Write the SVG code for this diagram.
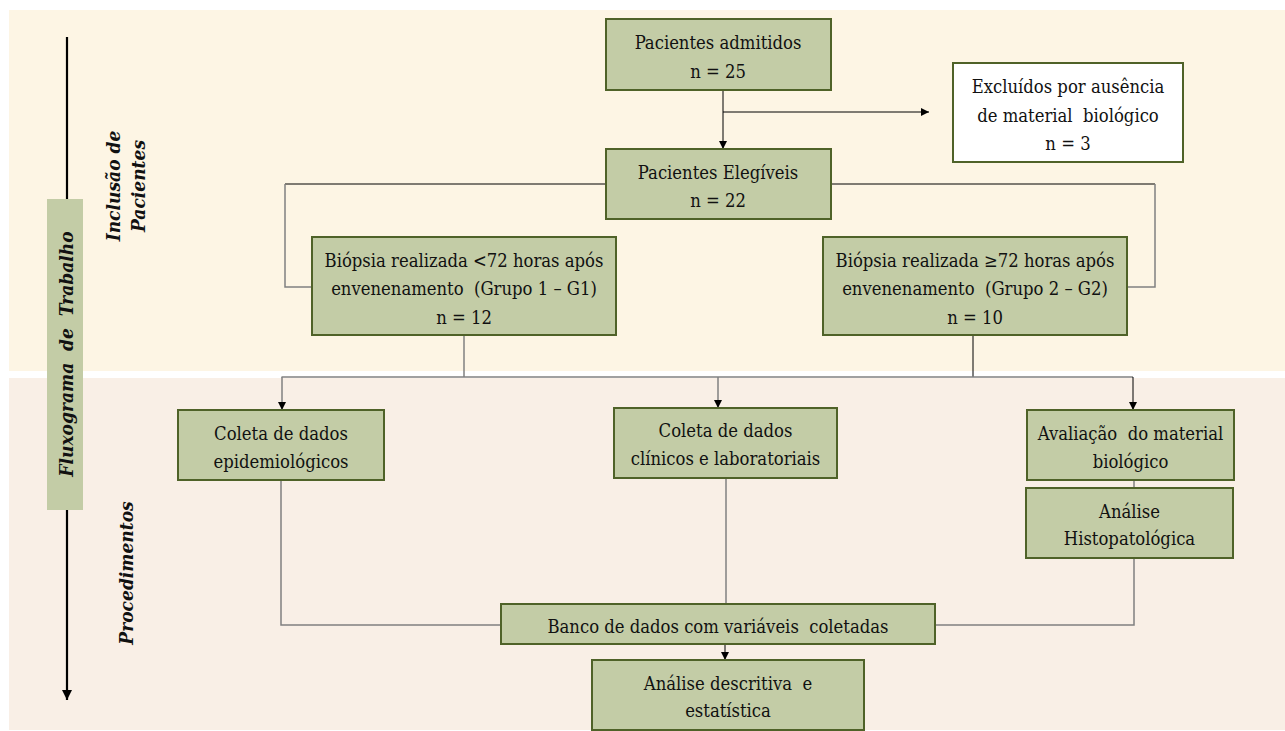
<svg xmlns="http://www.w3.org/2000/svg" width="1285" height="731" viewBox="0 0 1285 731">
<defs>
<marker id="arr" viewBox="0 0 10 10" refX="10" refY="5" markerWidth="8" markerHeight="8" markerUnits="userSpaceOnUse" orient="auto">
<path d="M0,0 L10,5 L0,10 z" fill="#000"/>
</marker>
<marker id="arrBig" viewBox="0 0 10 10" refX="10" refY="5" markerWidth="10" markerHeight="10" markerUnits="userSpaceOnUse" orient="auto">
<path d="M0,0 L10,5 L0,10 z" fill="#000"/>
</marker>
</defs>
<style>
.box{fill:#C3CCA6;stroke:#4F6228;stroke-width:2}
.wbox{fill:#FFFFFF;stroke:#4F6228;stroke-width:2}
text{font-family:'DejaVu Serif',serif;font-stretch:condensed}
.t{font-size:18.3px;fill:#111;text-anchor:middle;white-space:pre}
.lab{font-size:19px;font-weight:bold;font-style:italic;fill:#111;text-anchor:middle;white-space:pre}
.k{fill:none;stroke:#000;stroke-width:1}
.g{fill:none;stroke:#808080;stroke-width:1.5}
</style>
<rect x="0" y="0" width="1285" height="731" fill="#FFFFFF"/>
<rect x="9" y="10" width="1276" height="361" fill="#FDF5E4"/>
<rect x="9" y="378" width="1276" height="352" fill="#F9EFE6"/>

<g id="axis">
<line x1="67" y1="37" x2="67" y2="700" stroke="#000" stroke-width="2.2" marker-end="url(#arrBig)"/>
<rect x="47" y="199" width="36" height="311" fill="#C3CCA6"/>
<text class="lab" transform="translate(73,354) rotate(-90)">Fluxograma  de  Trabalho</text>
<text class="lab" transform="translate(120,186) rotate(-90)">Inclusão de</text>
<text class="lab" transform="translate(145,186) rotate(-90)">Pacientes</text>
<text class="lab" transform="translate(133,573) rotate(-90)">Procedimentos</text>
</g>

<g id="connectors">
<line class="k" x1="723" y1="90" x2="723" y2="149" marker-end="url(#arr)"/>
<line class="k" x1="723" y1="112" x2="929" y2="112" marker-end="url(#arr)"/>
<polyline class="k" points="606,184 285,184"/>
<polyline class="g" points="285,184 285,287 312,287"/>
<polyline class="k" points="831,184 1155,184"/>
<polyline class="g" points="1155,184 1155,287 1127,287"/>
<line class="g" x1="464" y1="335" x2="464" y2="377"/>
<line class="k" x1="973" y1="335" x2="973" y2="377"/>
<line class="g" x1="281.5" y1="377" x2="1133" y2="377"/>
<line class="g" x1="282" y1="377" x2="282" y2="410" marker-end="url(#arr)"/>
<line class="g" x1="718" y1="377" x2="718" y2="408" marker-end="url(#arr)"/>
<line class="k" x1="1133" y1="377" x2="1133" y2="410" marker-end="url(#arr)"/>
<line class="g" x1="1134" y1="480" x2="1134" y2="488"/>
<polyline class="g" points="281,480 281,625 501,625"/>
<line class="g" x1="726" y1="478" x2="726" y2="604"/>
<polyline class="g" points="1134,558 1134,625 935,625"/>
<line class="k" x1="725" y1="644" x2="725" y2="660" marker-end="url(#arr)"/>
</g>

<g id="n-admitidos">
<rect class="box" x="606" y="19" width="225" height="71"/>
<text class="t" x="718" y="49">Pacientes admitidos</text>
<text class="t" x="718" y="77.5">n = 25</text>
</g>

<g id="n-excluidos">
<rect class="wbox" x="953" y="63" width="230" height="99"/>
<text class="t" x="1068" y="93">Excluídos por ausência</text>
<text class="t" x="1068" y="121.5">de material  biológico</text>
<text class="t" x="1068" y="149.5">n = 3</text>
</g>

<g id="n-elegiveis">
<rect class="box" x="606" y="149" width="225" height="70"/>
<text class="t" x="718" y="178.5">Pacientes Elegíveis</text>
<text class="t" x="718" y="206.5">n = 22</text>
</g>

<g id="n-g1">
<rect class="box" x="312" y="237" width="304" height="98"/>
<text class="t" x="464" y="266.5">Biópsia realizada &lt;72 horas após</text>
<text class="t" x="464" y="295">envenenamento  (Grupo 1 – G1)</text>
<text class="t" x="464" y="323.5">n = 12</text>
</g>

<g id="n-g2">
<rect class="box" x="823" y="237" width="304" height="98"/>
<text class="t" x="975" y="266.5">Biópsia realizada ≥72 horas após</text>
<text class="t" x="975" y="295">envenenamento  (Grupo 2 – G2)</text>
<text class="t" x="975" y="323.5">n = 10</text>
</g>

<g id="n-epidem">
<rect class="box" x="178" y="410" width="206" height="70"/>
<text class="t" x="281" y="440">Coleta de dados</text>
<text class="t" x="281" y="467.5">epidemiológicos</text>
</g>

<g id="n-clinicos">
<rect class="box" x="614" y="408" width="223" height="70"/>
<text class="t" x="725.5" y="437">Coleta de dados</text>
<text class="t" x="725.5" y="465">clínicos e laboratoriais</text>
</g>

<g id="n-avaliacao">
<rect class="box" x="1027" y="410" width="207" height="70"/>
<text class="t" x="1130.5" y="440">Avaliação  do material</text>
<text class="t" x="1130.5" y="467.5">biológico</text>
</g>

<g id="n-histo">
<rect class="box" x="1026" y="488" width="207" height="70"/>
<text class="t" x="1129.5" y="518">Análise</text>
<text class="t" x="1129.5" y="545">Histopatológica</text>
</g>

<g id="n-banco">
<rect class="box" x="501" y="604" width="434" height="40"/>
<text class="t" x="718" y="632.5">Banco de dados com variáveis  coletadas</text>
</g>

<g id="n-analise">
<rect class="box" x="592" y="660" width="272" height="70"/>
<text class="t" x="728" y="689.5">Análise descritiva  e</text>
<text class="t" x="728" y="716.5">estatística</text>
</g>
</svg>
